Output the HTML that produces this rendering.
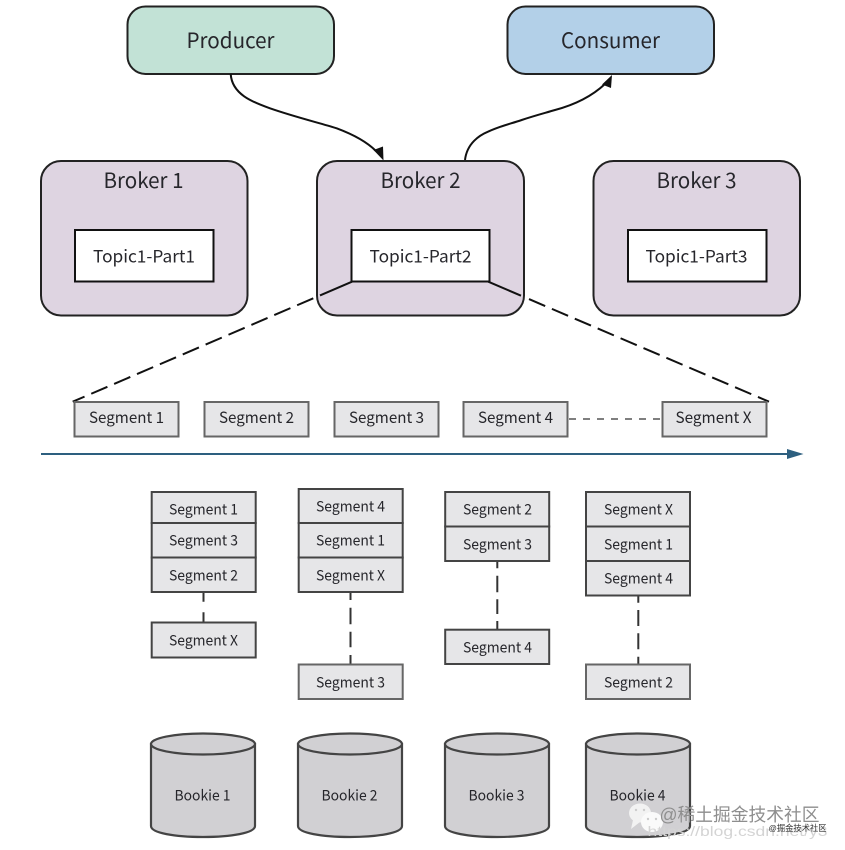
<!DOCTYPE html>
<html><head><meta charset="utf-8">
<style>
html,body{margin:0;padding:0;background:#fff;width:845px;height:850px;overflow:hidden}
svg{display:block;filter:blur(.35px)}
text{font-family:"Liberation Sans","Noto Sans CJK SC",sans-serif;fill:#26262b;text-anchor:middle;dominant-baseline:central;transform:translate(-.5px,-.8px)}
.n{font-family:"Noto Sans CJK SC","Liberation Sans",sans-serif}
.seg rect{fill:#e6e6e8;stroke:#666;stroke-width:2}
.st rect{fill:#e6e6e8;stroke:#444;stroke-width:2}
.cyl path,.cyl ellipse{fill:#d1d0d3;stroke:#444;stroke-width:2.2}
</style></head><body>
<svg width="845" height="850" viewBox="0 0 845 850" xmlns="http://www.w3.org/2000/svg">
<rect x="127.500" y="6.500" width="206.500" height="67.500" rx="18" fill="#c2e2d6" stroke="#222" stroke-width="2"/>
<rect x="507.500" y="6.500" width="206.500" height="67.500" rx="18" fill="#b3d0e8" stroke="#222" stroke-width="2"/>
<text class="n" x="231" y="41" font-size="21" textLength="88" lengthAdjust="spacingAndGlyphs">Producer</text>
<text class="n" x="611" y="41" font-size="21" textLength="99" lengthAdjust="spacingAndGlyphs">Consumer</text>
<path d="M230.700,74 C232,94 252,102 270,108.300 C295,117 320,123 336.700,128.300 C352,134 366,141 376,151" fill="none" stroke="#111" stroke-width="2"/>
<polygon points="383.500,160.500 373.500,150 383,146.500" fill="#111"/>
<path d="M465,160 C467,143 480,135 488,131.700 C500,126 510,124 521.700,120 C535,115.500 545,113 555,110 C570,106 590,98 605,84" fill="none" stroke="#111" stroke-width="2"/>
<polygon points="612,75 602,84.500 611,88" fill="#111"/>

<rect x="41" y="161" width="206.500" height="154.500" rx="20" fill="#ded4e1" stroke="#222" stroke-width="2"/>
<rect x="317" y="161" width="207" height="154.500" rx="20" fill="#ded4e1" stroke="#222" stroke-width="2"/>
<rect x="593.500" y="161" width="206.500" height="154.500" rx="20" fill="#ded4e1" stroke="#222" stroke-width="2"/>
<text class="n" x="144" y="181" font-size="21" textLength="80" lengthAdjust="spacingAndGlyphs">Broker 1</text>
<text class="n" x="421" y="181" font-size="21" textLength="80" lengthAdjust="spacingAndGlyphs">Broker 2</text>
<text class="n" x="697" y="181" font-size="21" textLength="80" lengthAdjust="spacingAndGlyphs">Broker 3</text>
<rect x="75" y="230" width="138.500" height="51.500" fill="#fff" stroke="#111" stroke-width="2"/>
<rect x="351.500" y="230" width="138" height="51.500" fill="#fff" stroke="#111" stroke-width="2"/>
<rect x="628" y="230" width="138.500" height="51.500" fill="#fff" stroke="#111" stroke-width="2"/>
<text class="n" x="144.500" y="256" font-size="17" textLength="102" lengthAdjust="spacingAndGlyphs">Topic1-Part1</text>
<text class="n" x="421" y="256" font-size="17" textLength="102" lengthAdjust="spacingAndGlyphs">Topic1-Part2</text>
<text class="n" x="697" y="256" font-size="17" textLength="102" lengthAdjust="spacingAndGlyphs">Topic1-Part3</text>

<g fill="none" stroke="#111" stroke-width="2">
<path d="M352,281.700 L320,295.400"/>
<path d="M313.300,298.300 L72.700,401.700" stroke-dasharray="17.600 7.300"/>
<path d="M488.300,281.700 L521,295.700"/>
<path d="M529,299.100 L769,401.700" stroke-dasharray="17.600 7.300"/>
</g>

<g class="seg">
<rect x="74.500" y="402" width="104" height="34.500"/>
<rect x="204.500" y="402" width="104" height="34.500"/>
<rect x="334.500" y="402" width="104" height="34.500"/>
<rect x="463.500" y="402" width="104" height="34.500"/>
<rect x="662.500" y="402" width="104" height="34.500"/>
</g>
<text class="n" x="127" y="418" font-size="15.500" textLength="75" lengthAdjust="spacingAndGlyphs">Segment 1</text>
<text class="n" x="257" y="418" font-size="15.500" textLength="75" lengthAdjust="spacingAndGlyphs">Segment 2</text>
<text class="n" x="387" y="418" font-size="15.500" textLength="75" lengthAdjust="spacingAndGlyphs">Segment 3</text>
<text class="n" x="516" y="418" font-size="15.500" textLength="75" lengthAdjust="spacingAndGlyphs">Segment 4</text>
<text class="n" x="714" y="418" font-size="15.500" textLength="76" lengthAdjust="spacingAndGlyphs">Segment X</text>
<path d="M569,419 L662,419" stroke="#555" stroke-width="1.600" stroke-dasharray="7 7" fill="none"/>

<path d="M41,454 L790,454" stroke="#2d5f7f" stroke-width="2" fill="none"/>
<polygon points="787,449 803.500,454 787,459" fill="#2d5f7f"/>

<g fill="none" stroke="#333" stroke-width="2">
<path d="M203.500,592 V601.700 M203.500,612.300 V622"/>
<path d="M350.500,592 V600 M350.500,607.700 V624.300 M350.500,631.700 V647.300 M350.500,655 V664"/>
<path d="M497.300,561 V568.300 M497.300,575.700 V592.300 M497.300,599.300 V614 M497.300,621 V629.500"/>
<path d="M638.300,595.500 V602.700 M638.300,610 V626 M638.300,633.300 V649.300 M638.300,656.700 V664"/>
</g>

<g class="st">
<rect x="151.700" y="492" width="104" height="31"/>
<rect x="151.700" y="523" width="104" height="34.500"/>
<rect x="151.700" y="557.500" width="104" height="34.500"/>
<rect x="151.700" y="622.500" width="104" height="35"/>
<rect x="298.700" y="489" width="104" height="34"/>
<rect x="298.700" y="523" width="104" height="34.500"/>
<rect x="298.700" y="557.500" width="104" height="34.500"/>
<rect x="298.700" y="664.500" width="104" height="34.500" style="stroke:#666"/>
<rect x="445.200" y="492" width="104" height="34.500"/>
<rect x="445.200" y="526.500" width="104" height="34.500"/>
<rect x="445.200" y="629.700" width="104" height="34.300"/>
<rect x="586" y="492" width="104" height="34.500"/>
<rect x="586" y="526.500" width="104" height="34.500"/>
<rect x="586" y="561" width="104" height="34.500"/>
<rect x="586" y="664.500" width="104" height="34.500" style="stroke:#666"/>
</g>
<g class="n" font-size="14.500">
<text class="n" x="204" y="510" textLength="69" lengthAdjust="spacingAndGlyphs">Segment 1</text>
<text class="n" x="204" y="541" textLength="69" lengthAdjust="spacingAndGlyphs">Segment 3</text>
<text class="n" x="204" y="576" textLength="69" lengthAdjust="spacingAndGlyphs">Segment 2</text>
<text class="n" x="204" y="641" textLength="69" lengthAdjust="spacingAndGlyphs">Segment X</text>
<text class="n" x="351" y="507" textLength="69" lengthAdjust="spacingAndGlyphs">Segment 4</text>
<text class="n" x="351" y="541" textLength="69" lengthAdjust="spacingAndGlyphs">Segment 1</text>
<text class="n" x="351" y="576" textLength="69" lengthAdjust="spacingAndGlyphs">Segment X</text>
<text class="n" x="351" y="683" textLength="69" lengthAdjust="spacingAndGlyphs">Segment 3</text>
<text class="n" x="498" y="510" textLength="69" lengthAdjust="spacingAndGlyphs">Segment 2</text>
<text class="n" x="498" y="545" textLength="69" lengthAdjust="spacingAndGlyphs">Segment 3</text>
<text class="n" x="498" y="648" textLength="69" lengthAdjust="spacingAndGlyphs">Segment 4</text>
<text class="n" x="639" y="510" textLength="69" lengthAdjust="spacingAndGlyphs">Segment X</text>
<text class="n" x="639" y="545" textLength="69" lengthAdjust="spacingAndGlyphs">Segment 1</text>
<text class="n" x="639" y="579" textLength="69" lengthAdjust="spacingAndGlyphs">Segment 4</text>
<text class="n" x="639" y="683" textLength="69" lengthAdjust="spacingAndGlyphs">Segment 2</text>
</g>

<g class="cyl">
<path d="M151,744 V826 C151,833 175,837 203,837 C231,837 255,833 255,826 V744 Z"/><ellipse cx="203" cy="744" rx="52" ry="10.500"/>
<path d="M298,744 V826 C298,833 322,837 350,837 C378,837 402,833 402,826 V744 Z"/><ellipse cx="350" cy="744" rx="52" ry="10.500"/>
<path d="M445,744 V826 C445,833 469,837 497,837 C525,837 549,833 549,826 V744 Z"/><ellipse cx="497" cy="744" rx="52" ry="10.500"/>
<path d="M586,744 V826 C586,833 610,837 638,837 C666,837 690,833 690,826 V744 Z"/><ellipse cx="638" cy="744" rx="52" ry="10.500"/>
</g>
<text class="n" x="203" y="796" font-size="14.500" textLength="56" lengthAdjust="spacingAndGlyphs">Bookie 1</text>
<text class="n" x="350" y="796" font-size="14.500" textLength="56" lengthAdjust="spacingAndGlyphs">Bookie 2</text>
<text class="n" x="497" y="796" font-size="14.500" textLength="56" lengthAdjust="spacingAndGlyphs">Bookie 3</text>
<text class="n" x="638" y="796" font-size="14.500" textLength="56" lengthAdjust="spacingAndGlyphs">Bookie 4</text>

<ellipse cx="640" cy="813" rx="11" ry="9.500" fill="#f2f2f2"/>
<ellipse cx="652" cy="822" rx="11" ry="10" fill="#fafafa"/>
<polygon points="633,820 631,829 640,822" fill="#f2f2f2"/>
<circle cx="636" cy="810" r="1.200" fill="#ccc"/><circle cx="644" cy="810" r="1.200" fill="#ccc"/>
<circle cx="648" cy="819" r="1.200" fill="#ccc"/><circle cx="656" cy="819" r="1.200" fill="#ccc"/>
<text x="740" y="816" font-size="18" style="fill:#8e8e8e" textLength="160" lengthAdjust="spacingAndGlyphs">@稀土掘金技术社区</text>
<text x="738" y="832" font-size="14" style="fill:#d4d4d4" textLength="180" lengthAdjust="spacingAndGlyphs">https://blog.csdn.net/y3</text>
<text x="798" y="829" font-size="8.500" style="fill:#333" textLength="58" lengthAdjust="spacingAndGlyphs">@掘金技术社区</text>
</svg>
</body></html>
